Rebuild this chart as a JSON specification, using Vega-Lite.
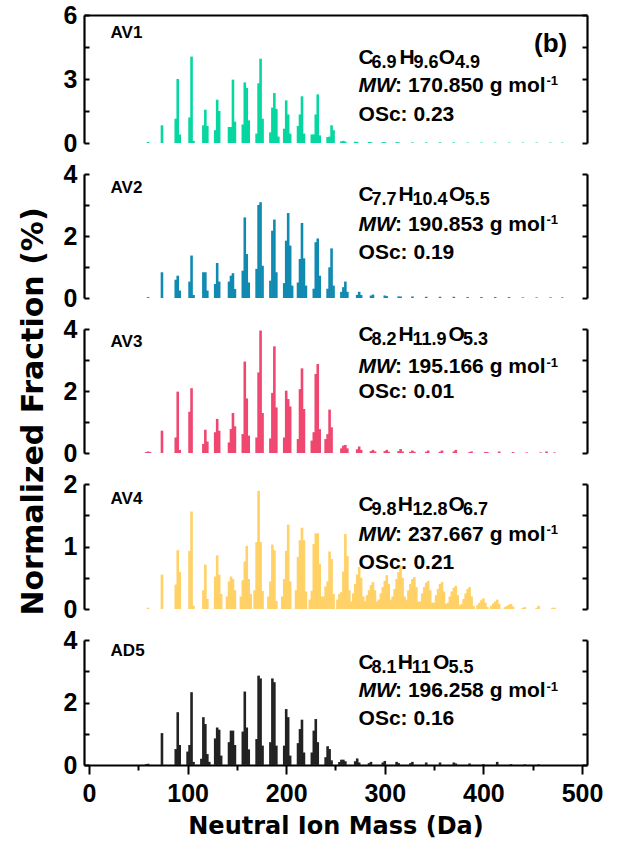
{
  "$schema": "https://vega.github.io/schema/vega-lite/v6.json",
  "padding": {"left": 18, "top": 3, "right": 0, "bottom": 0},
  "background": "white",
  "datasets": {
    "spectra": [
      {"sample":"AV1","mass":60,"fraction":0.05},{"sample":"AV1","mass":74,"fraction":0.83},
      {"sample":"AV1","mass":88,"fraction":1.14},{"sample":"AV1","mass":90,"fraction":3.0},{"sample":"AV1","mass":92,"fraction":0.4},
      {"sample":"AV1","mass":102,"fraction":1.2},{"sample":"AV1","mass":104,"fraction":4.05},{"sample":"AV1","mass":106,"fraction":0.1},
      {"sample":"AV1","mass":116,"fraction":0.83},{"sample":"AV1","mass":118,"fraction":1.56},{"sample":"AV1","mass":120,"fraction":0.8},
      {"sample":"AV1","mass":128,"fraction":0.6},{"sample":"AV1","mass":130,"fraction":2.03},{"sample":"AV1","mass":132,"fraction":1.5},
      {"sample":"AV1","mass":142,"fraction":0.75},{"sample":"AV1","mass":144,"fraction":0.75},{"sample":"AV1","mass":146,"fraction":2.97},{"sample":"AV1","mass":148,"fraction":1.0},
      {"sample":"AV1","mass":156,"fraction":0.87},{"sample":"AV1","mass":158,"fraction":2.84},{"sample":"AV1","mass":160,"fraction":2.58},{"sample":"AV1","mass":162,"fraction":1.06},
      {"sample":"AV1","mass":170,"fraction":0.44},{"sample":"AV1","mass":172,"fraction":2.8},{"sample":"AV1","mass":174,"fraction":3.95},{"sample":"AV1","mass":176,"fraction":1.14},
      {"sample":"AV1","mass":184,"fraction":0.5},{"sample":"AV1","mass":186,"fraction":1.66},{"sample":"AV1","mass":188,"fraction":2.34},{"sample":"AV1","mass":190,"fraction":1.6},{"sample":"AV1","mass":192,"fraction":0.3},
      {"sample":"AV1","mass":198,"fraction":0.67},{"sample":"AV1","mass":200,"fraction":2.0},{"sample":"AV1","mass":202,"fraction":1.34},{"sample":"AV1","mass":204,"fraction":0.44},
      {"sample":"AV1","mass":212,"fraction":0.8},{"sample":"AV1","mass":214,"fraction":1.34},{"sample":"AV1","mass":216,"fraction":2.19},{"sample":"AV1","mass":218,"fraction":0.44},
      {"sample":"AV1","mass":226,"fraction":0.4},{"sample":"AV1","mass":228,"fraction":0.4},{"sample":"AV1","mass":230,"fraction":1.34},{"sample":"AV1","mass":232,"fraction":2.28},{"sample":"AV1","mass":234,"fraction":0.36},
      {"sample":"AV1","mass":242,"fraction":0.28},{"sample":"AV1","mass":244,"fraction":0.3},{"sample":"AV1","mass":246,"fraction":0.83},{"sample":"AV1","mass":248,"fraction":0.6},
      {"sample":"AV1","mass":256,"fraction":0.08},{"sample":"AV1","mass":258,"fraction":0.1},{"sample":"AV1","mass":260,"fraction":0.06},{"sample":"AV1","mass":270,"fraction":0.06},{"sample":"AV1","mass":272,"fraction":0.05},
      {"sample":"AV1","mass":284,"fraction":0.05},{"sample":"AV1","mass":286,"fraction":0.04},{"sample":"AV1","mass":298,"fraction":0.04},{"sample":"AV1","mass":300,"fraction":0.04},{"sample":"AV1","mass":312,"fraction":0.04},
      {"sample":"AV1","mass":314,"fraction":0.03},{"sample":"AV1","mass":328,"fraction":0.03},{"sample":"AV1","mass":342,"fraction":0.03},{"sample":"AV1","mass":356,"fraction":0.03},{"sample":"AV1","mass":370,"fraction":0.03},
      {"sample":"AV1","mass":384,"fraction":0.02},{"sample":"AV1","mass":398,"fraction":0.02},{"sample":"AV1","mass":412,"fraction":0.02},{"sample":"AV1","mass":426,"fraction":0.02},{"sample":"AV1","mass":440,"fraction":0.02},
      {"sample":"AV1","mass":454,"fraction":0.02},{"sample":"AV1","mass":468,"fraction":0.02},{"sample":"AV1","mass":480,"fraction":0.02},

      {"sample":"AV2","mass":60,"fraction":0.03},{"sample":"AV2","mass":74,"fraction":0.83},
      {"sample":"AV2","mass":88,"fraction":0.59},{"sample":"AV2","mass":90,"fraction":0.72},{"sample":"AV2","mass":92,"fraction":0.24},
      {"sample":"AV2","mass":102,"fraction":0.53},{"sample":"AV2","mass":104,"fraction":1.37},{"sample":"AV2","mass":106,"fraction":0.1},
      {"sample":"AV2","mass":116,"fraction":0.83},{"sample":"AV2","mass":118,"fraction":0.83},{"sample":"AV2","mass":120,"fraction":0.24},
      {"sample":"AV2","mass":128,"fraction":0.45},{"sample":"AV2","mass":130,"fraction":1.13},{"sample":"AV2","mass":132,"fraction":0.53},
      {"sample":"AV2","mass":142,"fraction":0.53},{"sample":"AV2","mass":144,"fraction":0.72},{"sample":"AV2","mass":146,"fraction":0.8},{"sample":"AV2","mass":148,"fraction":0.29},
      {"sample":"AV2","mass":156,"fraction":0.88},{"sample":"AV2","mass":158,"fraction":2.6},{"sample":"AV2","mass":160,"fraction":1.42},{"sample":"AV2","mass":162,"fraction":0.5},
      {"sample":"AV2","mass":170,"fraction":0.94},{"sample":"AV2","mass":172,"fraction":3.0},{"sample":"AV2","mass":174,"fraction":3.09},{"sample":"AV2","mass":176,"fraction":1.04},
      {"sample":"AV2","mass":184,"fraction":0.56},{"sample":"AV2","mass":186,"fraction":2.17},{"sample":"AV2","mass":188,"fraction":2.53},{"sample":"AV2","mass":190,"fraction":0.83},
      {"sample":"AV2","mass":198,"fraction":0.48},{"sample":"AV2","mass":200,"fraction":1.85},{"sample":"AV2","mass":202,"fraction":2.74},{"sample":"AV2","mass":204,"fraction":1.69},{"sample":"AV2","mass":206,"fraction":0.4},
      {"sample":"AV2","mass":212,"fraction":0.5},{"sample":"AV2","mass":214,"fraction":1.26},{"sample":"AV2","mass":216,"fraction":2.42},{"sample":"AV2","mass":218,"fraction":1.28},{"sample":"AV2","mass":220,"fraction":0.4},
      {"sample":"AV2","mass":228,"fraction":0.3},{"sample":"AV2","mass":230,"fraction":1.8},{"sample":"AV2","mass":232,"fraction":1.92},{"sample":"AV2","mass":234,"fraction":0.72},
      {"sample":"AV2","mass":242,"fraction":0.3},{"sample":"AV2","mass":244,"fraction":0.99},{"sample":"AV2","mass":246,"fraction":1.6},{"sample":"AV2","mass":248,"fraction":0.4},
      {"sample":"AV2","mass":256,"fraction":0.2},{"sample":"AV2","mass":258,"fraction":0.35},{"sample":"AV2","mass":260,"fraction":0.53},{"sample":"AV2","mass":262,"fraction":0.2},
      {"sample":"AV2","mass":272,"fraction":0.1},{"sample":"AV2","mass":274,"fraction":0.2},{"sample":"AV2","mass":276,"fraction":0.1},
      {"sample":"AV2","mass":286,"fraction":0.08},{"sample":"AV2","mass":288,"fraction":0.11},{"sample":"AV2","mass":300,"fraction":0.08},{"sample":"AV2","mass":302,"fraction":0.06},
      {"sample":"AV2","mass":314,"fraction":0.05},{"sample":"AV2","mass":316,"fraction":0.05},{"sample":"AV2","mass":328,"fraction":0.05},{"sample":"AV2","mass":342,"fraction":0.04},{"sample":"AV2","mass":356,"fraction":0.04},
      {"sample":"AV2","mass":370,"fraction":0.04},{"sample":"AV2","mass":384,"fraction":0.03},{"sample":"AV2","mass":398,"fraction":0.03},{"sample":"AV2","mass":412,"fraction":0.03},{"sample":"AV2","mass":426,"fraction":0.03},
      {"sample":"AV2","mass":440,"fraction":0.02},{"sample":"AV2","mass":454,"fraction":0.02},{"sample":"AV2","mass":468,"fraction":0.02},{"sample":"AV2","mass":480,"fraction":0.02},

      {"sample":"AV3","mass":58,"fraction":0.03},{"sample":"AV3","mass":60,"fraction":0.05},{"sample":"AV3","mass":62,"fraction":0.03},{"sample":"AV3","mass":74,"fraction":0.72},
      {"sample":"AV3","mass":88,"fraction":0.5},{"sample":"AV3","mass":90,"fraction":1.98},{"sample":"AV3","mass":92,"fraction":0.1},
      {"sample":"AV3","mass":102,"fraction":1.33},{"sample":"AV3","mass":104,"fraction":2.09},
      {"sample":"AV3","mass":116,"fraction":0.29},{"sample":"AV3","mass":118,"fraction":0.75},{"sample":"AV3","mass":120,"fraction":0.37},
      {"sample":"AV3","mass":128,"fraction":0.67},{"sample":"AV3","mass":130,"fraction":1.1},{"sample":"AV3","mass":132,"fraction":0.72},
      {"sample":"AV3","mass":142,"fraction":0.34},{"sample":"AV3","mass":144,"fraction":0.77},{"sample":"AV3","mass":146,"fraction":1.29},{"sample":"AV3","mass":148,"fraction":0.86},
      {"sample":"AV3","mass":156,"fraction":0.61},{"sample":"AV3","mass":158,"fraction":2.95},{"sample":"AV3","mass":160,"fraction":1.76},{"sample":"AV3","mass":162,"fraction":0.56},
      {"sample":"AV3","mass":170,"fraction":0.5},{"sample":"AV3","mass":172,"fraction":2.6},{"sample":"AV3","mass":174,"fraction":3.95},{"sample":"AV3","mass":176,"fraction":1.29},
      {"sample":"AV3","mass":184,"fraction":0.47},{"sample":"AV3","mass":186,"fraction":1.94},{"sample":"AV3","mass":188,"fraction":3.44},{"sample":"AV3","mass":190,"fraction":1.47},
      {"sample":"AV3","mass":198,"fraction":0.5},{"sample":"AV3","mass":200,"fraction":2.01},{"sample":"AV3","mass":202,"fraction":1.74},{"sample":"AV3","mass":204,"fraction":1.5},
      {"sample":"AV3","mass":212,"fraction":0.45},{"sample":"AV3","mass":214,"fraction":2.06},{"sample":"AV3","mass":216,"fraction":2.73},{"sample":"AV3","mass":218,"fraction":1.42},
      {"sample":"AV3","mass":226,"fraction":0.4},{"sample":"AV3","mass":228,"fraction":0.67},{"sample":"AV3","mass":230,"fraction":2.55},{"sample":"AV3","mass":232,"fraction":2.87},{"sample":"AV3","mass":234,"fraction":0.77},
      {"sample":"AV3","mass":240,"fraction":0.45},{"sample":"AV3","mass":242,"fraction":0.61},{"sample":"AV3","mass":244,"fraction":1.4},{"sample":"AV3","mass":246,"fraction":0.83},
      {"sample":"AV3","mass":256,"fraction":0.15},{"sample":"AV3","mass":258,"fraction":0.24},{"sample":"AV3","mass":260,"fraction":0.26},{"sample":"AV3","mass":262,"fraction":0.15},
      {"sample":"AV3","mass":272,"fraction":0.12},{"sample":"AV3","mass":274,"fraction":0.21},{"sample":"AV3","mass":276,"fraction":0.1},
      {"sample":"AV3","mass":286,"fraction":0.06},{"sample":"AV3","mass":288,"fraction":0.1},{"sample":"AV3","mass":290,"fraction":0.05},
      {"sample":"AV3","mass":300,"fraction":0.06},{"sample":"AV3","mass":302,"fraction":0.1},{"sample":"AV3","mass":304,"fraction":0.04},
      {"sample":"AV3","mass":314,"fraction":0.06},{"sample":"AV3","mass":316,"fraction":0.13},{"sample":"AV3","mass":318,"fraction":0.05},
      {"sample":"AV3","mass":326,"fraction":0.04},{"sample":"AV3","mass":328,"fraction":0.08},{"sample":"AV3","mass":330,"fraction":0.04},
      {"sample":"AV3","mass":342,"fraction":0.04},{"sample":"AV3","mass":344,"fraction":0.08},{"sample":"AV3","mass":356,"fraction":0.04},{"sample":"AV3","mass":358,"fraction":0.08},
      {"sample":"AV3","mass":370,"fraction":0.05},{"sample":"AV3","mass":372,"fraction":0.1},{"sample":"AV3","mass":386,"fraction":0.03},{"sample":"AV3","mass":388,"fraction":0.05},
      {"sample":"AV3","mass":402,"fraction":0.03},{"sample":"AV3","mass":404,"fraction":0.03},{"sample":"AV3","mass":416,"fraction":0.05},{"sample":"AV3","mass":430,"fraction":0.03},
      {"sample":"AV3","mass":444,"fraction":0.02},{"sample":"AV3","mass":458,"fraction":0.02},{"sample":"AV3","mass":464,"fraction":0.05},{"sample":"AV3","mass":472,"fraction":0.02},

      {"sample":"AV4","mass":60,"fraction":0.02},{"sample":"AV4","mass":74,"fraction":0.55},
      {"sample":"AV4","mass":88,"fraction":0.39},{"sample":"AV4","mass":90,"fraction":0.94},{"sample":"AV4","mass":92,"fraction":0.59},
      {"sample":"AV4","mass":102,"fraction":0.93},{"sample":"AV4","mass":104,"fraction":1.56},{"sample":"AV4","mass":106,"fraction":0.05},
      {"sample":"AV4","mass":116,"fraction":0.3},{"sample":"AV4","mass":118,"fraction":0.71},{"sample":"AV4","mass":120,"fraction":0.16},
      {"sample":"AV4","mass":128,"fraction":0.52},{"sample":"AV4","mass":130,"fraction":0.86},{"sample":"AV4","mass":132,"fraction":0.55},{"sample":"AV4","mass":134,"fraction":0.24},
      {"sample":"AV4","mass":140,"fraction":0.2},{"sample":"AV4","mass":142,"fraction":0.44},{"sample":"AV4","mass":144,"fraction":0.52},{"sample":"AV4","mass":146,"fraction":0.48},{"sample":"AV4","mass":148,"fraction":0.3},
      {"sample":"AV4","mass":154,"fraction":0.2},{"sample":"AV4","mass":156,"fraction":0.46},{"sample":"AV4","mass":158,"fraction":0.76},{"sample":"AV4","mass":160,"fraction":1.01},{"sample":"AV4","mass":162,"fraction":0.48},{"sample":"AV4","mass":164,"fraction":0.24},
      {"sample":"AV4","mass":168,"fraction":0.3},{"sample":"AV4","mass":170,"fraction":1.07},{"sample":"AV4","mass":172,"fraction":1.89},{"sample":"AV4","mass":174,"fraction":1.07},{"sample":"AV4","mass":176,"fraction":0.29},
      {"sample":"AV4","mass":182,"fraction":0.2},{"sample":"AV4","mass":184,"fraction":0.44},{"sample":"AV4","mass":186,"fraction":1.03},{"sample":"AV4","mass":188,"fraction":0.94},{"sample":"AV4","mass":190,"fraction":0.13},
      {"sample":"AV4","mass":196,"fraction":0.2},{"sample":"AV4","mass":198,"fraction":0.48},{"sample":"AV4","mass":200,"fraction":0.93},{"sample":"AV4","mass":202,"fraction":1.35},{"sample":"AV4","mass":204,"fraction":0.44},
      {"sample":"AV4","mass":210,"fraction":0.3},{"sample":"AV4","mass":212,"fraction":0.83},{"sample":"AV4","mass":214,"fraction":1.1},{"sample":"AV4","mass":216,"fraction":1.3},{"sample":"AV4","mass":218,"fraction":1.1},{"sample":"AV4","mass":220,"fraction":0.28},
      {"sample":"AV4","mass":224,"fraction":0.15},{"sample":"AV4","mass":226,"fraction":0.29},{"sample":"AV4","mass":228,"fraction":1.04},{"sample":"AV4","mass":230,"fraction":1.21},{"sample":"AV4","mass":232,"fraction":1.21},{"sample":"AV4","mass":234,"fraction":0.72},{"sample":"AV4","mass":236,"fraction":0.2},
      {"sample":"AV4","mass":238,"fraction":0.2},{"sample":"AV4","mass":240,"fraction":0.36},{"sample":"AV4","mass":242,"fraction":0.44},{"sample":"AV4","mass":244,"fraction":0.92},{"sample":"AV4","mass":246,"fraction":0.8},{"sample":"AV4","mass":248,"fraction":0.24},
      {"sample":"AV4","mass":252,"fraction":0.15},{"sample":"AV4","mass":254,"fraction":0.24},{"sample":"AV4","mass":256,"fraction":0.27},{"sample":"AV4","mass":258,"fraction":0.6},{"sample":"AV4","mass":260,"fraction":1.2},{"sample":"AV4","mass":262,"fraction":0.85},{"sample":"AV4","mass":264,"fraction":0.3},
      {"sample":"AV4","mass":266,"fraction":0.12},{"sample":"AV4","mass":268,"fraction":0.25},{"sample":"AV4","mass":270,"fraction":0.4},{"sample":"AV4","mass":272,"fraction":0.55},{"sample":"AV4","mass":274,"fraction":0.67},{"sample":"AV4","mass":276,"fraction":0.5},{"sample":"AV4","mass":278,"fraction":0.2},
      {"sample":"AV4","mass":280,"fraction":0.12},{"sample":"AV4","mass":282,"fraction":0.22},{"sample":"AV4","mass":284,"fraction":0.3},{"sample":"AV4","mass":286,"fraction":0.38},{"sample":"AV4","mass":288,"fraction":0.43},{"sample":"AV4","mass":290,"fraction":0.3},{"sample":"AV4","mass":292,"fraction":0.12},
      {"sample":"AV4","mass":294,"fraction":0.15},{"sample":"AV4","mass":296,"fraction":0.25},{"sample":"AV4","mass":298,"fraction":0.35},{"sample":"AV4","mass":300,"fraction":0.45},{"sample":"AV4","mass":302,"fraction":0.54},{"sample":"AV4","mass":304,"fraction":0.4},{"sample":"AV4","mass":306,"fraction":0.15},
      {"sample":"AV4","mass":308,"fraction":0.2},{"sample":"AV4","mass":310,"fraction":0.32},{"sample":"AV4","mass":312,"fraction":0.48},{"sample":"AV4","mass":314,"fraction":0.59},{"sample":"AV4","mass":316,"fraction":0.69},{"sample":"AV4","mass":318,"fraction":0.5},{"sample":"AV4","mass":320,"fraction":0.2},
      {"sample":"AV4","mass":322,"fraction":0.15},{"sample":"AV4","mass":324,"fraction":0.3},{"sample":"AV4","mass":326,"fraction":0.4},{"sample":"AV4","mass":328,"fraction":0.48},{"sample":"AV4","mass":330,"fraction":0.51},{"sample":"AV4","mass":332,"fraction":0.35},{"sample":"AV4","mass":334,"fraction":0.12},
      {"sample":"AV4","mass":336,"fraction":0.12},{"sample":"AV4","mass":338,"fraction":0.25},{"sample":"AV4","mass":340,"fraction":0.35},{"sample":"AV4","mass":342,"fraction":0.42},{"sample":"AV4","mass":344,"fraction":0.45},{"sample":"AV4","mass":346,"fraction":0.3},{"sample":"AV4","mass":348,"fraction":0.1},
      {"sample":"AV4","mass":350,"fraction":0.1},{"sample":"AV4","mass":352,"fraction":0.22},{"sample":"AV4","mass":354,"fraction":0.32},{"sample":"AV4","mass":356,"fraction":0.4},{"sample":"AV4","mass":358,"fraction":0.43},{"sample":"AV4","mass":360,"fraction":0.28},{"sample":"AV4","mass":362,"fraction":0.08},
      {"sample":"AV4","mass":364,"fraction":0.1},{"sample":"AV4","mass":366,"fraction":0.2},{"sample":"AV4","mass":368,"fraction":0.28},{"sample":"AV4","mass":370,"fraction":0.34},{"sample":"AV4","mass":372,"fraction":0.37},{"sample":"AV4","mass":374,"fraction":0.22},{"sample":"AV4","mass":376,"fraction":0.06},
      {"sample":"AV4","mass":378,"fraction":0.08},{"sample":"AV4","mass":380,"fraction":0.16},{"sample":"AV4","mass":382,"fraction":0.25},{"sample":"AV4","mass":384,"fraction":0.32},{"sample":"AV4","mass":386,"fraction":0.35},{"sample":"AV4","mass":388,"fraction":0.2},{"sample":"AV4","mass":390,"fraction":0.05},
      {"sample":"AV4","mass":394,"fraction":0.06},{"sample":"AV4","mass":396,"fraction":0.1},{"sample":"AV4","mass":398,"fraction":0.14},{"sample":"AV4","mass":400,"fraction":0.17},{"sample":"AV4","mass":402,"fraction":0.1},{"sample":"AV4","mass":404,"fraction":0.03},
      {"sample":"AV4","mass":408,"fraction":0.05},{"sample":"AV4","mass":410,"fraction":0.09},{"sample":"AV4","mass":412,"fraction":0.12},{"sample":"AV4","mass":414,"fraction":0.15},{"sample":"AV4","mass":416,"fraction":0.08},
      {"sample":"AV4","mass":422,"fraction":0.03},{"sample":"AV4","mass":424,"fraction":0.05},{"sample":"AV4","mass":426,"fraction":0.07},{"sample":"AV4","mass":428,"fraction":0.08},{"sample":"AV4","mass":430,"fraction":0.04},
      {"sample":"AV4","mass":440,"fraction":0.02},{"sample":"AV4","mass":442,"fraction":0.03},{"sample":"AV4","mass":454,"fraction":0.02},{"sample":"AV4","mass":456,"fraction":0.05},{"sample":"AV4","mass":470,"fraction":0.02},{"sample":"AV4","mass":472,"fraction":0.02},

      {"sample":"AD5","mass":58,"fraction":0.03},{"sample":"AD5","mass":60,"fraction":0.04},{"sample":"AD5","mass":74,"fraction":1.02},
      {"sample":"AD5","mass":88,"fraction":0.51},{"sample":"AD5","mass":90,"fraction":1.69},{"sample":"AD5","mass":92,"fraction":0.64},
      {"sample":"AD5","mass":100,"fraction":0.43},{"sample":"AD5","mass":102,"fraction":0.64},{"sample":"AD5","mass":104,"fraction":2.33},{"sample":"AD5","mass":106,"fraction":0.1},
      {"sample":"AD5","mass":114,"fraction":0.2},{"sample":"AD5","mass":116,"fraction":1.53},{"sample":"AD5","mass":118,"fraction":1.31},{"sample":"AD5","mass":120,"fraction":0.35},{"sample":"AD5","mass":122,"fraction":0.1},
      {"sample":"AD5","mass":128,"fraction":0.85},{"sample":"AD5","mass":130,"fraction":1.2},{"sample":"AD5","mass":132,"fraction":1.13},{"sample":"AD5","mass":134,"fraction":0.3},
      {"sample":"AD5","mass":142,"fraction":0.73},{"sample":"AD5","mass":144,"fraction":1.1},{"sample":"AD5","mass":146,"fraction":1.1},{"sample":"AD5","mass":148,"fraction":0.64},
      {"sample":"AD5","mass":156,"fraction":1.07},{"sample":"AD5","mass":158,"fraction":2.35},{"sample":"AD5","mass":160,"fraction":1.2},{"sample":"AD5","mass":162,"fraction":0.5},
      {"sample":"AD5","mass":170,"fraction":0.83},{"sample":"AD5","mass":172,"fraction":2.86},{"sample":"AD5","mass":174,"fraction":2.77},{"sample":"AD5","mass":176,"fraction":0.62},
      {"sample":"AD5","mass":184,"fraction":0.73},{"sample":"AD5","mass":186,"fraction":2.77},{"sample":"AD5","mass":188,"fraction":2.65},{"sample":"AD5","mass":190,"fraction":0.62},
      {"sample":"AD5","mass":198,"fraction":0.62},{"sample":"AD5","mass":200,"fraction":1.79},{"sample":"AD5","mass":202,"fraction":1.53},{"sample":"AD5","mass":204,"fraction":0.3},
      {"sample":"AD5","mass":212,"fraction":0.7},{"sample":"AD5","mass":214,"fraction":1.15},{"sample":"AD5","mass":216,"fraction":1.45},{"sample":"AD5","mass":218,"fraction":0.4},
      {"sample":"AD5","mass":226,"fraction":0.4},{"sample":"AD5","mass":228,"fraction":1.1},{"sample":"AD5","mass":230,"fraction":1.47},{"sample":"AD5","mass":232,"fraction":0.73},
      {"sample":"AD5","mass":240,"fraction":0.25},{"sample":"AD5","mass":242,"fraction":0.6},{"sample":"AD5","mass":244,"fraction":0.51},{"sample":"AD5","mass":246,"fraction":0.15},
      {"sample":"AD5","mass":254,"fraction":0.1},{"sample":"AD5","mass":256,"fraction":0.17},{"sample":"AD5","mass":258,"fraction":0.17},{"sample":"AD5","mass":260,"fraction":0.12},
      {"sample":"AD5","mass":270,"fraction":0.12},{"sample":"AD5","mass":272,"fraction":0.21},{"sample":"AD5","mass":274,"fraction":0.08},{"sample":"AD5","mass":284,"fraction":0.06},{"sample":"AD5","mass":286,"fraction":0.1},
      {"sample":"AD5","mass":298,"fraction":0.08},{"sample":"AD5","mass":300,"fraction":0.13},{"sample":"AD5","mass":312,"fraction":0.1},{"sample":"AD5","mass":314,"fraction":0.06},{"sample":"AD5","mass":326,"fraction":0.06},
      {"sample":"AD5","mass":328,"fraction":0.1},{"sample":"AD5","mass":342,"fraction":0.08},{"sample":"AD5","mass":356,"fraction":0.08},{"sample":"AD5","mass":370,"fraction":0.08},{"sample":"AD5","mass":372,"fraction":0.05},
      {"sample":"AD5","mass":386,"fraction":0.05},{"sample":"AD5","mass":400,"fraction":0.03},{"sample":"AD5","mass":414,"fraction":0.1},{"sample":"AD5","mass":428,"fraction":0.03},{"sample":"AD5","mass":442,"fraction":0.02},{"sample":"AD5","mass":456,"fraction":0.02}
    ],
    "notes": [
      {"sample":"AV1","part":"name","mass":21.9,"fraction":4.92,"label":"AV1"},
      {"sample":"AV1","part":"tag","mass":485,"fraction":4.27,"label":"(b)"},
      {"sample":"AV1","part":"main","mass":273.4,"fraction":3.70,"label":"C"},
      {"sample":"AV1","part":"main","mass":314.8,"fraction":3.70,"label":"H"},
      {"sample":"AV1","part":"main","mass":354.6,"fraction":3.70,"label":"O"},
      {"sample":"AV1","part":"sub","mass":286.6,"fraction":3.50,"label":"6.9"},
      {"sample":"AV1","part":"sub","mass":329.0,"fraction":3.50,"label":"9.6"},
      {"sample":"AV1","part":"sub","mass":371.1,"fraction":3.50,"label":"4.9"},
      {"sample":"AV1","part":"ital","mass":273.4,"fraction":2.40,"label":"MW"},
      {"sample":"AV1","part":"main","mass":310.4,"fraction":2.40,"label":": 170.850 g mol"},
      {"sample":"AV1","part":"sup","mass":464,"fraction":2.71,"label":"-1"},
      {"sample":"AV1","part":"main","mass":273.4,"fraction":1.05,"label":"OSc: 0.23"},

      {"sample":"AV2","part":"name","mass":21.9,"fraction":3.40,"label":"AV2"},
      {"sample":"AV2","part":"main","mass":273.4,"fraction":3.12,"label":"C"},
      {"sample":"AV2","part":"main","mass":313.8,"fraction":3.12,"label":"H"},
      {"sample":"AV2","part":"main","mass":365.1,"fraction":3.12,"label":"O"},
      {"sample":"AV2","part":"sub","mass":286.6,"fraction":3.00,"label":"7.7"},
      {"sample":"AV2","part":"sub","mass":328.0,"fraction":3.00,"label":"10.4"},
      {"sample":"AV2","part":"sub","mass":381.0,"fraction":3.00,"label":"5.5"},
      {"sample":"AV2","part":"ital","mass":273.4,"fraction":2.17,"label":"MW"},
      {"sample":"AV2","part":"main","mass":310.4,"fraction":2.17,"label":": 190.853 g mol"},
      {"sample":"AV2","part":"sup","mass":464,"fraction":2.38,"label":"-1"},
      {"sample":"AV2","part":"main","mass":273.4,"fraction":1.26,"label":"OSc: 0.19"},

      {"sample":"AV3","part":"name","mass":21.9,"fraction":3.42,"label":"AV3"},
      {"sample":"AV3","part":"main","mass":273.4,"fraction":3.62,"label":"C"},
      {"sample":"AV3","part":"main","mass":313.8,"fraction":3.62,"label":"H"},
      {"sample":"AV3","part":"main","mass":364.5,"fraction":3.62,"label":"O"},
      {"sample":"AV3","part":"sub","mass":286.6,"fraction":3.49,"label":"8.2"},
      {"sample":"AV3","part":"sub","mass":328.0,"fraction":3.49,"label":"11.9"},
      {"sample":"AV3","part":"sub","mass":379.4,"fraction":3.49,"label":"5.3"},
      {"sample":"AV3","part":"ital","mass":273.4,"fraction":2.58,"label":"MW"},
      {"sample":"AV3","part":"main","mass":310.4,"fraction":2.58,"label":": 195.166 g mol"},
      {"sample":"AV3","part":"sup","mass":464,"fraction":2.79,"label":"-1"},
      {"sample":"AV3","part":"main","mass":273.4,"fraction":1.76,"label":"OSc: 0.01"},

      {"sample":"AV4","part":"name","mass":21.9,"fraction":1.68,"label":"AV4"},
      {"sample":"AV4","part":"main","mass":273.4,"fraction":1.573,"label":"C"},
      {"sample":"AV4","part":"main","mass":313.1,"fraction":1.573,"label":"H"},
      {"sample":"AV4","part":"main","mass":364.5,"fraction":1.573,"label":"O"},
      {"sample":"AV4","part":"sub","mass":286.6,"fraction":1.509,"label":"9.8"},
      {"sample":"AV4","part":"sub","mass":328.0,"fraction":1.509,"label":"12.8"},
      {"sample":"AV4","part":"sub","mass":379.4,"fraction":1.509,"label":"6.7"},
      {"sample":"AV4","part":"ital","mass":273.4,"fraction":1.093,"label":"MW"},
      {"sample":"AV4","part":"main","mass":310.4,"fraction":1.093,"label":": 237.667 g mol"},
      {"sample":"AV4","part":"sup","mass":464,"fraction":1.197,"label":"-1"},
      {"sample":"AV4","part":"main","mass":273.4,"fraction":0.64,"label":"OSc: 0.21"},

      {"sample":"AD5","part":"name","mass":21.9,"fraction":3.49,"label":"AD5"},
      {"sample":"AD5","part":"main","mass":273.4,"fraction":3.07,"label":"C"},
      {"sample":"AD5","part":"main","mass":313.1,"fraction":3.07,"label":"H"},
      {"sample":"AD5","part":"main","mass":348.9,"fraction":3.07,"label":"O"},
      {"sample":"AD5","part":"sub","mass":286.6,"fraction":2.94,"label":"8.1"},
      {"sample":"AD5","part":"sub","mass":327.4,"fraction":2.94,"label":"11"},
      {"sample":"AD5","part":"sub","mass":364.5,"fraction":2.94,"label":"5.5"},
      {"sample":"AD5","part":"ital","mass":273.4,"fraction":2.17,"label":"MW"},
      {"sample":"AD5","part":"main","mass":310.4,"fraction":2.17,"label":": 196.258 g mol"},
      {"sample":"AD5","part":"sup","mass":464,"fraction":2.37,"label":"-1"},
      {"sample":"AD5","part":"main","mass":273.4,"fraction":1.28,"label":"OSc: 0.16"}
    ]
  },
  "vconcat": [
    {
      "width": 503, "height": 128,
      "layer": [
        {"data": {"name": "spectra"}, "transform": [{"filter": "datum.sample === 'AV1'"}],
         "mark": {"type": "bar", "orient": "vertical", "size": 2.6, "color": "#06D6A0"},
         "encoding": {
           "x": {"field": "mass", "type": "quantitative", "scale": {"domain": [0, 500], "nice": false},
                 "axis": {"orient": "top", "labels": false, "ticks": false, "domain": true, "title": null}},
           "y": {"field": "fraction", "type": "quantitative", "scale": {"domain": [0, 6], "nice": false},
                 "axis": {"orient": "left", "values": [0, 1.5, 3, 4.5, 6], "labelExpr": "datum.value % 3 === 0 ? format(datum.value, 'd') : ''", "domain": true, "ticks": true, "tickSize": -5, "labelPadding": 12, "title": null, "labelOverlap": false, "labelFlush": false}}}},
        {"data": {"name": "notes"}, "transform": [{"filter": "datum.sample === 'AV1' && datum.part === 'name'"}],
         "mark": {"type": "text", "align": "left", "baseline": "alphabetic", "fontSize": 17, "fontWeight": "bold", "color": "black"},
         "encoding": {
           "x": {"field": "mass", "type": "quantitative", "scale": {"domain": [0, 500], "nice": false}, "axis": null},
           "y": {"field": "fraction", "type": "quantitative", "scale": {"domain": [0, 6], "nice": false},
                 "axis": {"orient": "right", "values": [0, 1.5, 3, 4.5, 6], "labels": false, "domain": true, "ticks": true, "tickSize": -5, "title": null}},
           "text": {"field": "label"}}},
        {"data": {"name": "notes"}, "transform": [{"filter": "datum.sample === 'AV1' && datum.part === 'tag'"}],
         "mark": {"type": "text", "align": "right", "baseline": "alphabetic", "fontSize": 26, "fontWeight": "bold", "color": "black"},
         "encoding": {"x": {"field": "mass", "type": "quantitative", "axis": null}, "y": {"field": "fraction", "type": "quantitative", "axis": null}, "text": {"field": "label"}}},
        {"data": {"name": "notes"}, "transform": [{"filter": "datum.sample === 'AV1' && datum.part === 'main'"}],
         "mark": {"type": "text", "align": "left", "baseline": "alphabetic", "fontSize": 21, "fontWeight": "bold", "color": "black"},
         "encoding": {"x": {"field": "mass", "type": "quantitative", "axis": null}, "y": {"field": "fraction", "type": "quantitative", "axis": null}, "text": {"field": "label"}}},
        {"data": {"name": "notes"}, "transform": [{"filter": "datum.sample === 'AV1' && datum.part === 'sub'"}],
         "mark": {"type": "text", "align": "left", "baseline": "alphabetic", "fontSize": 18, "fontWeight": "bold", "color": "black"},
         "encoding": {"x": {"field": "mass", "type": "quantitative", "axis": null}, "y": {"field": "fraction", "type": "quantitative", "axis": null}, "text": {"field": "label"}}},
        {"data": {"name": "notes"}, "transform": [{"filter": "datum.sample === 'AV1' && datum.part === 'ital'"}],
         "mark": {"type": "text", "align": "left", "baseline": "alphabetic", "fontSize": 21, "fontWeight": "bold", "fontStyle": "italic", "color": "black"},
         "encoding": {"x": {"field": "mass", "type": "quantitative", "axis": null}, "y": {"field": "fraction", "type": "quantitative", "axis": null}, "text": {"field": "label"}}},
        {"data": {"name": "notes"}, "transform": [{"filter": "datum.sample === 'AV1' && datum.part === 'sup'"}],
         "mark": {"type": "text", "align": "left", "baseline": "alphabetic", "fontSize": 13, "fontWeight": "bold", "color": "black"},
         "encoding": {"x": {"field": "mass", "type": "quantitative", "axis": null}, "y": {"field": "fraction", "type": "quantitative", "axis": null}, "text": {"field": "label"}}}
      ],
      "resolve": {"axis": {"x": "independent", "y": "independent"}}
    },
    {
      "width": 503, "height": 124,
      "layer": [
        {"data": {"name": "spectra"}, "transform": [{"filter": "datum.sample === 'AV2'"}],
         "mark": {"type": "bar", "orient": "vertical", "size": 2.6, "color": "#118AB2"},
         "encoding": {
           "x": {"field": "mass", "type": "quantitative", "scale": {"domain": [0, 500], "nice": false}, "axis": null},
           "y": {"field": "fraction", "type": "quantitative", "scale": {"domain": [0, 4], "nice": false},
                 "axis": {"orient": "left", "values": [0, 1, 2, 3, 4], "labelExpr": "datum.value % 2 === 0 ? format(datum.value, 'd') : ''", "domain": true, "ticks": true, "tickSize": -5, "labelPadding": 12, "title": null, "labelOverlap": false, "labelFlush": false}}}},
        {"data": {"name": "notes"}, "transform": [{"filter": "datum.sample === 'AV2' && datum.part === 'name'"}],
         "mark": {"type": "text", "align": "left", "baseline": "alphabetic", "fontSize": 17, "fontWeight": "bold", "color": "black"},
         "encoding": {
           "x": {"field": "mass", "type": "quantitative", "scale": {"domain": [0, 500], "nice": false}, "axis": null},
           "y": {"field": "fraction", "type": "quantitative", "scale": {"domain": [0, 4], "nice": false},
                 "axis": {"orient": "right", "values": [0, 1, 2, 3, 4], "labels": false, "domain": true, "ticks": true, "tickSize": -5, "title": null}},
           "text": {"field": "label"}}},
        {"data": {"name": "notes"}, "transform": [{"filter": "datum.sample === 'AV2' && datum.part === 'main'"}],
         "mark": {"type": "text", "align": "left", "baseline": "alphabetic", "fontSize": 21, "fontWeight": "bold", "color": "black"},
         "encoding": {"x": {"field": "mass", "type": "quantitative", "axis": null}, "y": {"field": "fraction", "type": "quantitative", "axis": null}, "text": {"field": "label"}}},
        {"data": {"name": "notes"}, "transform": [{"filter": "datum.sample === 'AV2' && datum.part === 'sub'"}],
         "mark": {"type": "text", "align": "left", "baseline": "alphabetic", "fontSize": 18, "fontWeight": "bold", "color": "black"},
         "encoding": {"x": {"field": "mass", "type": "quantitative", "axis": null}, "y": {"field": "fraction", "type": "quantitative", "axis": null}, "text": {"field": "label"}}},
        {"data": {"name": "notes"}, "transform": [{"filter": "datum.sample === 'AV2' && datum.part === 'ital'"}],
         "mark": {"type": "text", "align": "left", "baseline": "alphabetic", "fontSize": 21, "fontWeight": "bold", "fontStyle": "italic", "color": "black"},
         "encoding": {"x": {"field": "mass", "type": "quantitative", "axis": null}, "y": {"field": "fraction", "type": "quantitative", "axis": null}, "text": {"field": "label"}}},
        {"data": {"name": "notes"}, "transform": [{"filter": "datum.sample === 'AV2' && datum.part === 'sup'"}],
         "mark": {"type": "text", "align": "left", "baseline": "alphabetic", "fontSize": 13, "fontWeight": "bold", "color": "black"},
         "encoding": {"x": {"field": "mass", "type": "quantitative", "axis": null}, "y": {"field": "fraction", "type": "quantitative", "axis": null}, "text": {"field": "label"}}}
      ],
      "resolve": {"axis": {"x": "independent", "y": "independent"}}
    },
    {
      "width": 503, "height": 124,
      "layer": [
        {"data": {"name": "spectra"}, "transform": [{"filter": "datum.sample === 'AV3'"}],
         "mark": {"type": "bar", "orient": "vertical", "size": 2.6, "color": "#EF476F"},
         "encoding": {
           "x": {"field": "mass", "type": "quantitative", "scale": {"domain": [0, 500], "nice": false}, "axis": null},
           "y": {"field": "fraction", "type": "quantitative", "scale": {"domain": [0, 4], "nice": false},
                 "axis": {"orient": "left", "values": [0, 1, 2, 3, 4], "labelExpr": "datum.value % 2 === 0 ? format(datum.value, 'd') : ''", "domain": true, "ticks": true, "tickSize": -5, "labelPadding": 12, "labelOverlap": false, "labelFlush": false,
                          "title": "Normalized Fraction (%)", "titleFont": "DejaVu Sans", "titleFontSize": 30, "titlePadding": 15, "titleY": 82}}}},
        {"data": {"name": "notes"}, "transform": [{"filter": "datum.sample === 'AV3' && datum.part === 'name'"}],
         "mark": {"type": "text", "align": "left", "baseline": "alphabetic", "fontSize": 17, "fontWeight": "bold", "color": "black"},
         "encoding": {
           "x": {"field": "mass", "type": "quantitative", "scale": {"domain": [0, 500], "nice": false}, "axis": null},
           "y": {"field": "fraction", "type": "quantitative", "scale": {"domain": [0, 4], "nice": false},
                 "axis": {"orient": "right", "values": [0, 1, 2, 3, 4], "labels": false, "domain": true, "ticks": true, "tickSize": -5, "title": null}},
           "text": {"field": "label"}}},
        {"data": {"name": "notes"}, "transform": [{"filter": "datum.sample === 'AV3' && datum.part === 'main'"}],
         "mark": {"type": "text", "align": "left", "baseline": "alphabetic", "fontSize": 21, "fontWeight": "bold", "color": "black"},
         "encoding": {"x": {"field": "mass", "type": "quantitative", "axis": null}, "y": {"field": "fraction", "type": "quantitative", "axis": null}, "text": {"field": "label"}}},
        {"data": {"name": "notes"}, "transform": [{"filter": "datum.sample === 'AV3' && datum.part === 'sub'"}],
         "mark": {"type": "text", "align": "left", "baseline": "alphabetic", "fontSize": 18, "fontWeight": "bold", "color": "black"},
         "encoding": {"x": {"field": "mass", "type": "quantitative", "axis": null}, "y": {"field": "fraction", "type": "quantitative", "axis": null}, "text": {"field": "label"}}},
        {"data": {"name": "notes"}, "transform": [{"filter": "datum.sample === 'AV3' && datum.part === 'ital'"}],
         "mark": {"type": "text", "align": "left", "baseline": "alphabetic", "fontSize": 21, "fontWeight": "bold", "fontStyle": "italic", "color": "black"},
         "encoding": {"x": {"field": "mass", "type": "quantitative", "axis": null}, "y": {"field": "fraction", "type": "quantitative", "axis": null}, "text": {"field": "label"}}},
        {"data": {"name": "notes"}, "transform": [{"filter": "datum.sample === 'AV3' && datum.part === 'sup'"}],
         "mark": {"type": "text", "align": "left", "baseline": "alphabetic", "fontSize": 13, "fontWeight": "bold", "color": "black"},
         "encoding": {"x": {"field": "mass", "type": "quantitative", "axis": null}, "y": {"field": "fraction", "type": "quantitative", "axis": null}, "text": {"field": "label"}}}
      ],
      "resolve": {"axis": {"x": "independent", "y": "independent"}}
    },
    {
      "width": 503, "height": 125,
      "layer": [
        {"data": {"name": "spectra"}, "transform": [{"filter": "datum.sample === 'AV4'"}],
         "mark": {"type": "bar", "orient": "vertical", "size": 2.6, "color": "#FFD166"},
         "encoding": {
           "x": {"field": "mass", "type": "quantitative", "scale": {"domain": [0, 500], "nice": false}, "axis": null},
           "y": {"field": "fraction", "type": "quantitative", "scale": {"domain": [0, 2], "nice": false},
                 "axis": {"orient": "left", "values": [0, 0.5, 1, 1.5, 2], "labelExpr": "datum.value % 1 === 0 ? format(datum.value, 'd') : ''", "domain": true, "ticks": true, "tickSize": -5, "labelPadding": 12, "title": null, "labelOverlap": false, "labelFlush": false}}}},
        {"data": {"name": "notes"}, "transform": [{"filter": "datum.sample === 'AV4' && datum.part === 'name'"}],
         "mark": {"type": "text", "align": "left", "baseline": "alphabetic", "fontSize": 17, "fontWeight": "bold", "color": "black"},
         "encoding": {
           "x": {"field": "mass", "type": "quantitative", "scale": {"domain": [0, 500], "nice": false}, "axis": null},
           "y": {"field": "fraction", "type": "quantitative", "scale": {"domain": [0, 2], "nice": false},
                 "axis": {"orient": "right", "values": [0, 0.5, 1, 1.5, 2], "labels": false, "domain": true, "ticks": true, "tickSize": -5, "title": null}},
           "text": {"field": "label"}}},
        {"data": {"name": "notes"}, "transform": [{"filter": "datum.sample === 'AV4' && datum.part === 'main'"}],
         "mark": {"type": "text", "align": "left", "baseline": "alphabetic", "fontSize": 21, "fontWeight": "bold", "color": "black"},
         "encoding": {"x": {"field": "mass", "type": "quantitative", "axis": null}, "y": {"field": "fraction", "type": "quantitative", "axis": null}, "text": {"field": "label"}}},
        {"data": {"name": "notes"}, "transform": [{"filter": "datum.sample === 'AV4' && datum.part === 'sub'"}],
         "mark": {"type": "text", "align": "left", "baseline": "alphabetic", "fontSize": 18, "fontWeight": "bold", "color": "black"},
         "encoding": {"x": {"field": "mass", "type": "quantitative", "axis": null}, "y": {"field": "fraction", "type": "quantitative", "axis": null}, "text": {"field": "label"}}},
        {"data": {"name": "notes"}, "transform": [{"filter": "datum.sample === 'AV4' && datum.part === 'ital'"}],
         "mark": {"type": "text", "align": "left", "baseline": "alphabetic", "fontSize": 21, "fontWeight": "bold", "fontStyle": "italic", "color": "black"},
         "encoding": {"x": {"field": "mass", "type": "quantitative", "axis": null}, "y": {"field": "fraction", "type": "quantitative", "axis": null}, "text": {"field": "label"}}},
        {"data": {"name": "notes"}, "transform": [{"filter": "datum.sample === 'AV4' && datum.part === 'sup'"}],
         "mark": {"type": "text", "align": "left", "baseline": "alphabetic", "fontSize": 13, "fontWeight": "bold", "color": "black"},
         "encoding": {"x": {"field": "mass", "type": "quantitative", "axis": null}, "y": {"field": "fraction", "type": "quantitative", "axis": null}, "text": {"field": "label"}}}
      ],
      "resolve": {"axis": {"x": "independent", "y": "independent"}}
    },
    {
      "width": 503, "height": 125,
      "layer": [
        {"data": {"name": "spectra"}, "transform": [{"filter": "datum.sample === 'AD5'"}],
         "mark": {"type": "bar", "orient": "vertical", "size": 2.6, "color": "#222222"},
         "encoding": {
           "x": {"field": "mass", "type": "quantitative", "scale": {"domain": [0, 500], "nice": false},
                 "axis": {"orient": "bottom", "values": [0, 100, 200, 300, 400, 500], "tickSize": 9, "labelPadding": 7, "labelOverlap": false, "labelFlush": false,
                          "title": "Neutral Ion Mass (Da)", "titleFont": "DejaVu Sans", "titleFontSize": 24, "titlePadding": 8}},
           "y": {"field": "fraction", "type": "quantitative", "scale": {"domain": [0, 4], "nice": false},
                 "axis": {"orient": "left", "values": [0, 1, 2, 3, 4], "labelExpr": "datum.value % 2 === 0 ? format(datum.value, 'd') : ''", "domain": true, "ticks": true, "tickSize": -5, "labelPadding": 12, "title": null, "labelOverlap": false, "labelFlush": false}}}},
        {"data": {"name": "notes"}, "transform": [{"filter": "datum.sample === 'AD5' && datum.part === 'name'"}],
         "mark": {"type": "text", "align": "left", "baseline": "alphabetic", "fontSize": 17, "fontWeight": "bold", "color": "black"},
         "encoding": {
           "x": {"field": "mass", "type": "quantitative", "scale": {"domain": [0, 500], "nice": false},
                 "axis": {"orient": "bottom", "values": [50, 150, 250, 350, 450], "tickSize": 5, "labels": false, "domain": false, "title": null}},
           "y": {"field": "fraction", "type": "quantitative", "scale": {"domain": [0, 4], "nice": false},
                 "axis": {"orient": "right", "values": [0, 1, 2, 3, 4], "labels": false, "domain": true, "ticks": true, "tickSize": -5, "title": null}},
           "text": {"field": "label"}}},
        {"data": {"name": "notes"}, "transform": [{"filter": "datum.sample === 'AD5' && datum.part === 'main'"}],
         "mark": {"type": "text", "align": "left", "baseline": "alphabetic", "fontSize": 21, "fontWeight": "bold", "color": "black"},
         "encoding": {"x": {"field": "mass", "type": "quantitative", "axis": null}, "y": {"field": "fraction", "type": "quantitative", "axis": null}, "text": {"field": "label"}}},
        {"data": {"name": "notes"}, "transform": [{"filter": "datum.sample === 'AD5' && datum.part === 'sub'"}],
         "mark": {"type": "text", "align": "left", "baseline": "alphabetic", "fontSize": 18, "fontWeight": "bold", "color": "black"},
         "encoding": {"x": {"field": "mass", "type": "quantitative", "axis": null}, "y": {"field": "fraction", "type": "quantitative", "axis": null}, "text": {"field": "label"}}},
        {"data": {"name": "notes"}, "transform": [{"filter": "datum.sample === 'AD5' && datum.part === 'ital'"}],
         "mark": {"type": "text", "align": "left", "baseline": "alphabetic", "fontSize": 21, "fontWeight": "bold", "fontStyle": "italic", "color": "black"},
         "encoding": {"x": {"field": "mass", "type": "quantitative", "axis": null}, "y": {"field": "fraction", "type": "quantitative", "axis": null}, "text": {"field": "label"}}},
        {"data": {"name": "notes"}, "transform": [{"filter": "datum.sample === 'AD5' && datum.part === 'sup'"}],
         "mark": {"type": "text", "align": "left", "baseline": "alphabetic", "fontSize": 13, "fontWeight": "bold", "color": "black"},
         "encoding": {"x": {"field": "mass", "type": "quantitative", "axis": null}, "y": {"field": "fraction", "type": "quantitative", "axis": null}, "text": {"field": "label"}}}
      ],
      "resolve": {"axis": {"x": "independent", "y": "independent"}}
    }
  ],
  "spacing": 31,
  "bounds": "flush",
  "config": {
    "font": "Liberation Sans",
    "view": {"stroke": null},
    "axis": {
      "grid": false,
      "zindex": 1,
      "domainColor": "black", "domainWidth": 2.2,
      "tickColor": "black", "tickWidth": 2,
      "labelColor": "black", "labelFont": "Liberation Sans", "labelFontSize": 25, "labelFontWeight": "bold",
      "titleColor": "black", "titleFont": "Liberation Sans", "titleFontWeight": "bold"
    }
  }
}
